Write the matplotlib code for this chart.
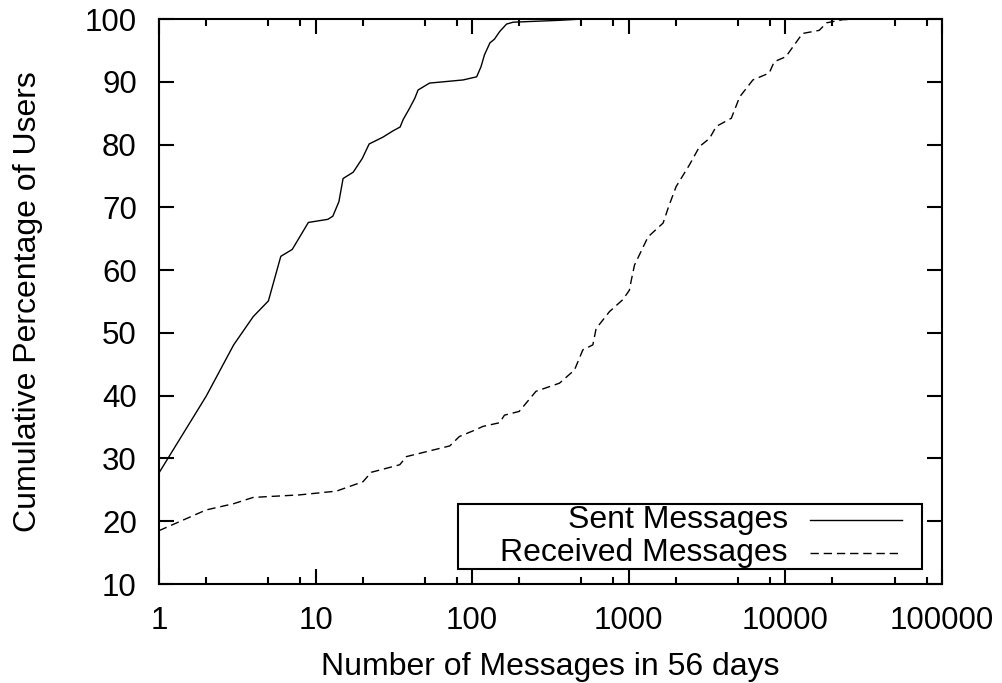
import matplotlib
matplotlib.use("Agg")
import matplotlib.pyplot as plt
from matplotlib.patches import Rectangle
from matplotlib.lines import Line2D
from matplotlib.ticker import FixedLocator, NullFormatter

plt.rcParams['font.family'] = ['Liberation Sans', 'DejaVu Sans']
plt.rcParams['lines.scale_dashes'] = False

# messages per user (x) vs cumulative percentage of users (y)
sent_x = [1, 2.0, 3.0, 4.0, 5.0, 6.0, 7.1, 9.0, 12.0, 12.9, 14.1, 15.0, 17.4,
          19.9, 22.0, 27.0, 31.3, 34.7, 36.3, 39.9, 43.1, 45.2, 53.5, 87.6,
          107, 114, 120, 130, 139, 150, 166, 183, 362, 500]
sent_y = [27.7, 39.9, 48.1, 52.6, 55.1, 62.2, 63.3, 67.6, 68.1, 68.6, 70.9,
          74.6, 75.6, 77.8, 80.1, 81.2, 82.2, 82.8, 84.0, 85.8, 87.4, 88.7,
          89.8, 90.3, 90.8, 92.4, 94.3, 96.2, 96.8, 98.0, 99.2, 99.5, 99.8, 100]

recv_x = [1, 2.0, 3.0, 4.0, 7.9, 13.6, 20.1, 22.7, 34.5, 38.1, 72, 83, 106,
          117, 150, 161, 200, 256, 362, 451, 510, 591, 620, 755, 918, 1011,
          1040, 1090, 1330, 1660, 1800, 2010, 2450, 2840, 3290, 3630, 4530,
          5120, 6220, 7910, 8510, 10100, 12900, 16500, 18400, 23300, 30000]
recv_y = [18.5, 21.8, 22.8, 23.8, 24.2, 24.8, 26.3, 27.8, 29.0, 30.3, 32.0,
          33.5, 34.6, 35.1, 35.7, 36.9, 37.5, 40.7, 42.0, 44.1, 47.3, 48.1,
          50.7, 53.4, 55.3, 56.8, 58.4, 60.8, 65.3, 67.5, 70.1, 73.3, 76.8,
          79.7, 81.0, 82.9, 84.2, 87.6, 90.3, 91.4, 93.2, 94.0, 97.7, 98.2,
          99.4, 99.9, 100]

x_ticks = [1, 10, 100, 1000, 10000, 100000]
x_tick_labels = ["1", "10", "100", "1000", "10000", "100000"]
y_ticks = [10, 20, 30, 40, 50, 60, 70, 80, 90, 100]

FS = 23

fig = plt.figure(figsize=(10.03, 6.83), dpi=100)
ax = fig.add_axes([0.1585, 0.1449, 0.7804, 0.8272])

ax.plot(sent_x, sent_y, color="black", lw=1.0)
ax.plot(recv_x, recv_y, color="black", lw=1.0, dashes=(6, 3.5))

ax.set_xscale("log")
ax.set_xlim(1, 100000)
ax.set_ylim(10, 100)

ax.xaxis.set_major_locator(FixedLocator(x_ticks))
ax.set_xticklabels(x_tick_labels)
minor = [m * 10 ** d for d in range(5) for m in (2, 5, 8)]
ax.xaxis.set_minor_locator(FixedLocator(minor))
ax.xaxis.set_minor_formatter(NullFormatter())
ax.set_yticks(y_ticks)

for s in ax.spines.values():
    s.set_linewidth(1.5)
ax.tick_params(which="major", direction="in", length=10.5, width=1.5,
               top=True, right=True, labelsize=22.5, pad=16)
ax.tick_params(which="minor", direction="in", length=5, width=1.5,
               top=True, right=True)

ax.set_xlabel("Number of Messages in 56 days", fontsize=FS, labelpad=11)
ax.set_ylabel("Cumulative Percentage of Users", fontsize=FS, labelpad=30)

# legend box with right-aligned labels
ax.add_patch(Rectangle((0.382, 0.026), 0.5925, 0.1156, transform=ax.transAxes,
                       facecolor="white", edgecolor="black", lw=1.5, zorder=5))
ax.text(0.8036, 0.1133, "Sent Messages", transform=ax.transAxes, ha="right",
        va="center", fontsize=FS, zorder=6)
ax.text(0.8036, 0.0549, "Received Messages", transform=ax.transAxes, ha="right",
        va="center", fontsize=FS, zorder=6)
ax.add_line(Line2D([0.8317, 0.949], [0.1133, 0.1133], transform=ax.transAxes,
                   color="black", lw=1.0, zorder=6))
ax.add_line(Line2D([0.8317, 0.949], [0.0549, 0.0549], transform=ax.transAxes,
                   color="black", lw=1.0, dashes=(6, 3.5), zorder=6))

fig.savefig("out.png", dpi=100)
